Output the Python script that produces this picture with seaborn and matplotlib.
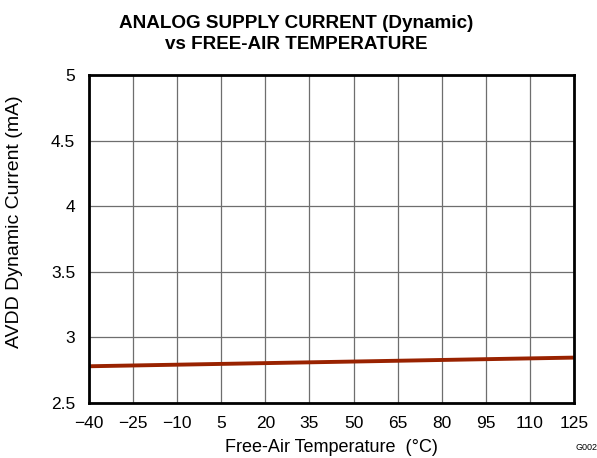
import matplotlib
matplotlib.use("Agg")
import matplotlib.pyplot as plt
import seaborn as sns
import pandas as pd

sns.set_theme(style="white")
plt.rcParams['font.family'] = ['Liberation Sans', 'DejaVu Sans']
plt.rcParams['text.color'] = 'black'

temperature = [-40, -25, -10, 5, 20, 35, 50, 65, 80, 95, 110, 125]
current_ma = [2.780, 2.786, 2.792, 2.798, 2.804, 2.810, 2.816, 2.822, 2.828, 2.834, 2.840, 2.846]
x_ticks = [-40, -25, -10, 5, 20, 35, 50, 65, 80, 95, 110, 125]
y_ticks = [2.5, 3, 3.5, 4, 4.5, 5]
y_labels = ["2.5", "3", "3.5", "4", "4.5", "5"]

df = pd.DataFrame({"temp": temperature, "current": current_ma})

fig = plt.figure(figsize=(5.97, 4.58), dpi=100)
ax = fig.add_axes([89 / 597, 1 - 403 / 458, (574 - 89) / 597, (403 - 75) / 458])

sns.lineplot(data=df, x="temp", y="current", ax=ax, color="#992200", linewidth=2.8)

ax.set_xlim(-40, 125)
ax.set_ylim(2.5, 5)
ax.set_xticks(x_ticks)
ax.set_xticklabels([str(t).replace("-", "\u2212") for t in x_ticks])
ax.set_yticks(y_ticks)
ax.set_yticklabels(y_labels)
ax.grid(True, color="#6e6e6e", linewidth=0.9)
ax.tick_params(axis="x", length=0, labelsize=12.5, colors="black", pad=9)
ax.tick_params(axis="y", length=0, labelsize=12.5, colors="black", pad=10)
for s in ax.spines.values():
    s.set_color("black")
    s.set_linewidth(2)

ax.set_xlabel("Free-Air Temperature  (\u00b0C)", fontsize=13, color="black", labelpad=6)
ax.set_ylabel("")
fig.text(15 / 597, 1 - 222 / 458, "AVDD Dynamic Current (mA)", rotation=90,
         ha="center", va="center", fontsize=14, color="black")
fig.text(296 / 597, 1 - 15 / 458,
         "ANALOG SUPPLY CURRENT (Dynamic)\nvs FREE-AIR TEMPERATURE",
         ha="center", va="top", fontsize=13.6, fontweight="bold", linespacing=1.3,
         color="black")
fig.text(575 / 597, 1 - 452 / 458, "G002", fontsize=6.5, ha="left", va="bottom")

fig.savefig("out.png", dpi=100)
